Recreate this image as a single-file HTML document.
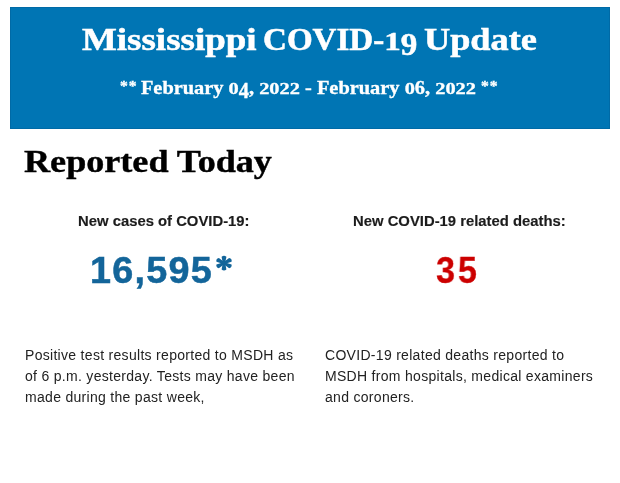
<!DOCTYPE html>
<html>
<head>
<meta charset="utf-8">
<style>
html,body{margin:0;padding:0;background:#fff;}
body{width:620px;height:483px;overflow:hidden;position:relative;font-family:"Liberation Sans",sans-serif;}
.banner{position:absolute;left:10px;top:7px;width:600px;height:122px;background:#0075b4;box-shadow:inset 0 0 0 1px rgba(0,50,90,0.15);}
.t{position:absolute;white-space:nowrap;transform-origin:0 0;will-change:transform;}
.serif{font-family:"Liberation Serif",serif;font-weight:bold;}
.ttl{top:22px;font-size:30.5px;line-height:36px;color:#fff;-webkit-text-stroke:0.5px #fff;}
#sub{left:120px;top:76px;transform:scaleX(1.045);-webkit-text-stroke:0.35px #fff;font-size:19.5px;line-height:24px;color:#fff;}
#rt{left:24px;top:143.5px;transform:scaleX(1.147);-webkit-text-stroke:0.4px #000;font-size:31.5px;line-height:36px;color:#000;}
.os,.o4,.o9{display:inline-block;line-height:1;transform-origin:50% 0.8375em;}
.ttl .os{transform:scaleY(0.8);}
#sub .os{transform:scaleY(0.846);}
.o9{transform:translateY(5.4px) scaleY(1.05);}
.o4{transform:translateY(4px) scaleY(1.15);}
.as{font-size:15px;position:relative;top:-3px;letter-spacing:0.8px;}
.as1{margin-right:-1.5px;}
.lbl{font-weight:bold;font-size:14px;line-height:16px;color:#1c1c1c;-webkit-text-stroke:0.15px #1c1c1c;top:212.5px;transform:scaleX(1.06);}
#l1{left:78px;}
#l2{left:353px;}
.num{-webkit-text-stroke:0.5px currentColor;font-weight:bold;font-size:36px;line-height:40px;top:250.5px;transform:scaleX(1.05);}
#n1{left:90px;color:#13659a;letter-spacing:1.15px;}
#ast{position:absolute;left:214.2px;top:253px;}
#n2{left:436px;color:#cc0000;transform:scaleX(0.95);letter-spacing:3px;-webkit-text-stroke:0.3px #cc0000;}
.desc{font-size:14px;line-height:21px;color:#222;top:345px;letter-spacing:0.3px;}
#d1{left:25px;}
#d2{left:325px;}
</style>
</head>
<body>
<div class="banner"></div>
<div class="t serif ttl" style="left:82px;transform:scaleX(1.211)">Mississippi</div>
<div class="t serif ttl" style="left:262.7px;transform:scaleX(1.084)">COVID-<span class="os">1</span><span class="o9">9</span></div>
<div class="t serif ttl" style="left:424.3px;transform:scaleX(1.189)">Update</div>
<div class="t serif" id="sub"><span class="as as1">**</span> February <span class="os">0</span><span class="o4">4</span>, <span class="os">2</span><span class="os">0</span><span class="os">2</span><span class="os">2</span> - February <span class="os">0</span>6, <span class="os">2</span><span class="os">0</span><span class="os">2</span><span class="os">2</span> <span class="as">**</span></div>
<div class="t serif" id="rt">Reported Today</div>
<div class="t lbl" id="l1">New cases of COVID-19:</div>
<div class="t lbl" id="l2">New COVID-19 related deaths:</div>
<div class="t num" id="n1">16,595</div>
<svg id="ast" width="20" height="20" viewBox="-10 -10 20 20"><g fill="#13659a" transform="translate(0 0.1) scale(1.2 1.06)"><path transform="rotate(0)" d="M-1 0L-2 -6.1Q0 -8 2 -6.1L1 0Z"/><path transform="rotate(60)" d="M-1 0L-2 -6.1Q0 -8 2 -6.1L1 0Z"/><path transform="rotate(120)" d="M-1 0L-2 -6.1Q0 -8 2 -6.1L1 0Z"/><path transform="rotate(180)" d="M-1 0L-2 -6.1Q0 -8 2 -6.1L1 0Z"/><path transform="rotate(240)" d="M-1 0L-2 -6.1Q0 -8 2 -6.1L1 0Z"/><path transform="rotate(300)" d="M-1 0L-2 -6.1Q0 -8 2 -6.1L1 0Z"/></g></svg>
<div class="t num" id="n2">35</div>
<div class="t desc" id="d1">Positive test results reported to MSDH as<br>of 6 p.m. yesterday. Tests may have been<br>made during the past week,</div>
<div class="t desc" id="d2">COVID-19 related deaths reported to<br>MSDH from hospitals, medical examiners<br>and coroners.</div>
</body>
</html>
